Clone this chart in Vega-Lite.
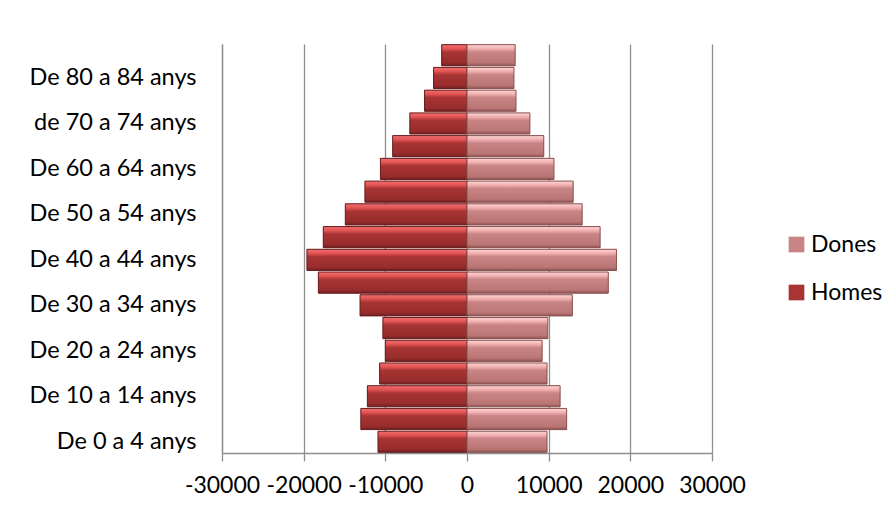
{
  "$schema": "https://vega.github.io/schema/vega-lite/v6.json",
  "width": 490,
  "height": 409,
  "autosize": "none",
  "padding": {"left": 222, "top": 44, "right": 184, "bottom": 58},
  "background": "white",
  "data": {
    "values": [
      {"edat": "De 0 a 4 anys", "sexe": "Homes", "valor": -10900},
      {"edat": "De 0 a 4 anys", "sexe": "Dones", "valor": 9800},
      {"edat": "De 5 a 9 anys", "sexe": "Homes", "valor": -13000},
      {"edat": "De 5 a 9 anys", "sexe": "Dones", "valor": 12200},
      {"edat": "De 10 a 14 anys", "sexe": "Homes", "valor": -12200},
      {"edat": "De 10 a 14 anys", "sexe": "Dones", "valor": 11400},
      {"edat": "De 15 a 19 anys", "sexe": "Homes", "valor": -10700},
      {"edat": "De 15 a 19 anys", "sexe": "Dones", "valor": 9800},
      {"edat": "De 20 a 24 anys", "sexe": "Homes", "valor": -10000},
      {"edat": "De 20 a 24 anys", "sexe": "Dones", "valor": 9200},
      {"edat": "De 25 a 29 anys", "sexe": "Homes", "valor": -10300},
      {"edat": "De 25 a 29 anys", "sexe": "Dones", "valor": 9900},
      {"edat": "De 30 a 34 anys", "sexe": "Homes", "valor": -13100},
      {"edat": "De 30 a 34 anys", "sexe": "Dones", "valor": 12900},
      {"edat": "De 35 a 39 anys", "sexe": "Homes", "valor": -18200},
      {"edat": "De 35 a 39 anys", "sexe": "Dones", "valor": 17300},
      {"edat": "De 40 a 44 anys", "sexe": "Homes", "valor": -19600},
      {"edat": "De 40 a 44 anys", "sexe": "Dones", "valor": 18300},
      {"edat": "De 45 a 49 anys", "sexe": "Homes", "valor": -17600},
      {"edat": "De 45 a 49 anys", "sexe": "Dones", "valor": 16300},
      {"edat": "De 50 a 54 anys", "sexe": "Homes", "valor": -14900},
      {"edat": "De 50 a 54 anys", "sexe": "Dones", "valor": 14100},
      {"edat": "De 55 a 59 anys", "sexe": "Homes", "valor": -12500},
      {"edat": "De 55 a 59 anys", "sexe": "Dones", "valor": 13000},
      {"edat": "De 60 a 64 anys", "sexe": "Homes", "valor": -10600},
      {"edat": "De 60 a 64 anys", "sexe": "Dones", "valor": 10650},
      {"edat": "De 65 a 69 anys", "sexe": "Homes", "valor": -9100},
      {"edat": "De 65 a 69 anys", "sexe": "Dones", "valor": 9400},
      {"edat": "de 70 a 74 anys", "sexe": "Homes", "valor": -7000},
      {"edat": "de 70 a 74 anys", "sexe": "Dones", "valor": 7700},
      {"edat": "De 75 a 79 anys", "sexe": "Homes", "valor": -5200},
      {"edat": "De 75 a 79 anys", "sexe": "Dones", "valor": 6000},
      {"edat": "De 80 a 84 anys", "sexe": "Homes", "valor": -4100},
      {"edat": "De 80 a 84 anys", "sexe": "Dones", "valor": 5750},
      {"edat": "De 85 anys i més", "sexe": "Homes", "valor": -3100},
      {"edat": "De 85 anys i més", "sexe": "Dones", "valor": 5900}
    ]
  },
  "encoding": {
    "y": {
      "field": "edat",
      "type": "nominal",
      "sort": ["De 85 anys i més", "De 80 a 84 anys", "De 75 a 79 anys", "de 70 a 74 anys", "De 65 a 69 anys", "De 60 a 64 anys", "De 55 a 59 anys", "De 50 a 54 anys", "De 45 a 49 anys", "De 40 a 44 anys", "De 35 a 39 anys", "De 30 a 34 anys", "De 25 a 29 anys", "De 20 a 24 anys", "De 15 a 19 anys", "De 10 a 14 anys", "De 5 a 9 anys", "De 0 a 4 anys"],
      "scale": {"paddingInner": 0.07, "paddingOuter": 0.03},
      "axis": {
        "title": null,
        "ticks": false,
        "grid": false,
        "domain": true,
        "domainColor": "#8E8E8E",
        "domainWidth": 1.3,
        "labelPadding": 26,
        "labelFont": "Lato",
        "labelFontSize": 23.5,
        "labelColor": "#000000",
        "labelOverlap": false,
        "labelExpr": "indexof(['De 0 a 4 anys','De 10 a 14 anys','De 20 a 24 anys','De 30 a 34 anys','De 40 a 44 anys','De 50 a 54 anys','De 60 a 64 anys','de 70 a 74 anys','De 80 a 84 anys'], datum.value) >= 0 ? datum.value : ''"
      }
    },
    "x": {
      "field": "valor",
      "type": "quantitative",
      "scale": {"domain": [-30000, 30000], "nice": false},
      "axis": {
        "title": null,
        "values": [-30000, -20000, -10000, 0, 10000, 20000, 30000],
        "grid": true,
        "gridColor": "#8E8E8E",
        "gridWidth": 1.3,
        "domainColor": "#8E8E8E",
        "domainWidth": 1.3,
        "tickColor": "#8E8E8E",
        "tickWidth": 1.3,
        "tickSize": 8,
        "labelPadding": 13,
        "labelFont": "Lato",
        "labelFontSize": 23,
        "labelColor": "#000000",
        "labelOverlap": false,
        "labelFlush": false,
        "labelBound": false,
        "labelExpr": "'' + datum.value"
      }
    }
  },
  "layer": [
    {
      "mark": {"type": "bar"},
      "encoding": {
        "color": {
          "field": "sexe",
          "type": "nominal",
          "sort": ["Dones", "Homes"],
          "scale": {"domain": ["Dones", "Homes"], "range": ["#C98585", "#A83434"]},
          "legend": {
            "title": null,
            "orient": "none",
            "legendX": 563,
            "legendY": 189,
            "symbolType": "square",
            "symbolSize": 246,
            "symbolStrokeWidth": 0,
            "symbolOpacity": 1,
            "labelFont": "Lato",
            "labelFontSize": 23,
            "labelColor": "#000000",
            "labelOffset": 3,
            "rowPadding": 24
          }
        }
      }
    },
    {
      "mark": {"type": "bar", "strokeWidth": 1},
      "encoding": {
        "color": {
          "condition": {
            "test": "datum.sexe === 'Homes'",
            "value": {"gradient": "linear", "x1": 0, "y1": 0, "x2": 0, "y2": 1, "stops": [
              {"offset": 0, "color": "#F27070"},
              {"offset": 0.2, "color": "#E05252"},
              {"offset": 0.35, "color": "#A83434"},
              {"offset": 0.85, "color": "#982C2C"},
              {"offset": 1, "color": "#6E2020"}
            ]}
          },
          "value": {"gradient": "linear", "x1": 0, "y1": 0, "x2": 0, "y2": 1, "stops": [
            {"offset": 0, "color": "#FFD6D6"},
            {"offset": 0.2, "color": "#F0ADAD"},
            {"offset": 0.35, "color": "#C98585"},
            {"offset": 0.85, "color": "#BA7575"},
            {"offset": 1, "color": "#8F5454"}
          ]}
        },
        "stroke": {
          "condition": {"test": "datum.sexe === 'Homes'", "value": "#6A1E1E"},
          "value": "#8A5050"
        }
      }
    }
  ],
  "config": {
    "view": {"stroke": null},
    "font": "Lato"
  }
}
